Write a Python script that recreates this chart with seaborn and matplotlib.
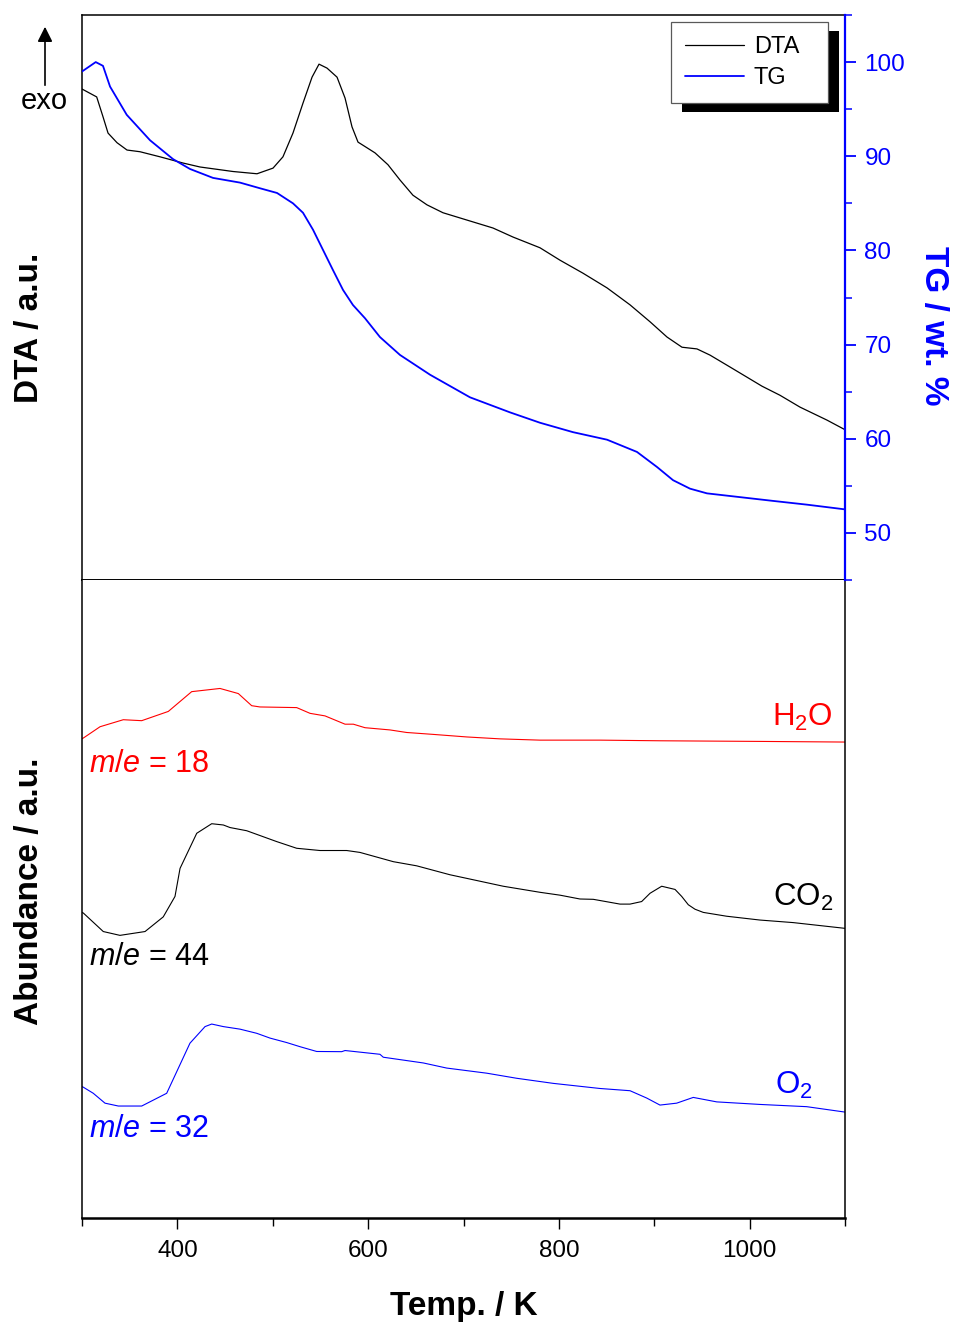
import matplotlib
matplotlib.use("Agg")
import matplotlib.pyplot as plt
from matplotlib.patches import Rectangle
from matplotlib.ticker import MultipleLocator
import seaborn as sns

# ---- thermal analysis (top panel) ----
dta_temp = [300.0, 315.4, 322.0, 327.3, 336.7, 347.2, 360.8, 381.8, 405.9, 423.7,
            458.3, 483.5, 500.3, 510.7, 521.2, 531.7, 541.2, 548.5, 556.9, 567.4,
            575.8, 583.1, 589.4, 598.8, 607.2, 620.8, 633.4, 647.0, 661.7, 678.5,
            703.7, 730.9, 751.9, 780.2, 801.2, 825.3, 850.5, 874.6, 895.6, 913.4,
            929.1, 944.8, 958.5, 979.4, 997.2, 1013.0, 1031.8, 1052.8, 1081.1, 1100.0]
dta_signal = [86.9, 85.5, 82.0, 79.1, 77.4, 76.1, 75.8, 74.9, 73.8, 73.1,
              72.3, 71.9, 72.9, 74.9, 79.1, 84.4, 89.0, 91.3, 90.6, 89.0,
              85.3, 80.2, 77.5, 76.5, 75.6, 73.5, 70.8, 68.1, 66.4, 65.0,
              63.7, 62.3, 60.7, 58.8, 56.6, 54.3, 51.7, 48.7, 45.7, 43.0,
              41.2, 40.9, 39.8, 37.7, 35.9, 34.3, 32.7, 30.6, 28.3, 26.6]

tg_temp = [300.0, 314.4, 322.0, 329.4, 346.9, 371.3, 395.4, 413.2, 437.4, 465.7,
           486.6, 504.5, 521.2, 531.7, 542.2, 552.7, 563.2, 573.7, 584.1, 596.7,
           612.4, 633.4, 664.9, 706.8, 748.8, 780.2, 814.8, 850.5, 881.9, 902.9,
           919.7, 937.5, 955.3, 989.9, 1024.5, 1060.2, 1100.0]
tg_mass = [99.0, 100.0, 99.6, 97.4, 94.4, 91.7, 89.7, 88.65, 87.7, 87.2,
           86.6, 86.1, 85.0, 84.0, 82.2, 80.05, 77.9, 75.8, 74.2, 72.8,
           70.8, 68.9, 66.8, 64.4, 62.8, 61.7, 60.7, 59.9, 58.6, 57.0,
           55.6, 54.7, 54.2, 53.8, 53.4, 53.0, 52.5]

# ---- mass spectrometry (bottom panel) ----
h2o_temp = [300.0, 303.1, 318.9, 343.3, 362.6, 390.5, 415.0, 444.7, 463.9, 477.9,
            486.6, 525.1, 539.1, 554.8, 575.8, 584.5, 596.7, 622.9, 640.4, 668.3,
            703.4, 738.3, 780.2, 843.1, 906.0, 1010.9, 1100.0]
h2o_abund = [75.1, 75.4, 77.0, 78.1, 77.95, 79.4, 82.5, 83.0, 82.2, 80.3,
             80.1, 80.0, 79.1, 78.7, 77.4, 77.4, 76.85, 76.5, 76.1, 75.8,
             75.4, 75.1, 74.9, 74.9, 74.8, 74.7, 74.6]

co2_temp = [300.0, 301.4, 322.3, 339.8, 366.1, 385.2, 397.5, 402.8, 420.3, 436.0,
            448.2, 455.2, 472.7, 504.1, 525.1, 549.5, 577.5, 591.5, 626.4, 650.9,
            685.8, 713.8, 741.7, 780.2, 801.2, 822.1, 836.1, 864.1, 874.6, 886.8,
            895.6, 907.8, 921.8, 928.8, 935.7, 942.7, 951.4, 975.9, 1010.9, 1045.8,
            1100.0]
co2_abund = [47.9, 47.8, 44.9, 44.3, 44.9, 47.2, 50.4, 54.8, 60.3, 61.8,
             61.6, 61.2, 60.7, 59.0, 57.95, 57.6, 57.6, 57.3, 55.85, 55.2,
             53.8, 52.9, 52.0, 51.05, 50.6, 50.0, 49.95, 49.2, 49.2, 49.6,
             50.9, 52.0, 51.5, 50.4, 49.1, 48.4, 47.9, 47.3, 46.7, 46.3,
             45.4]

o2_temp = [300.0, 301.4, 311.8, 324.1, 338.1, 362.6, 388.8, 413.2, 429.0, 436.0,
           448.2, 465.7, 483.2, 497.1, 514.6, 528.6, 546.1, 572.3, 575.8, 612.4,
           615.9, 657.9, 682.4, 724.3, 755.8, 794.2, 843.1, 874.6, 892.1, 906.0,
           923.5, 940.9, 965.5, 1010.9, 1059.8, 1100.0]
o2_abund = [20.6, 20.5, 19.55, 18.0, 17.55, 17.55, 19.55, 27.4, 30.0, 30.4,
            30.0, 29.6, 28.95, 28.2, 27.5, 26.85, 26.1, 26.07, 26.25, 25.66,
            25.2, 24.3, 23.5, 22.7, 21.9, 21.1, 20.3, 19.95, 18.8, 17.7,
            18.0, 18.9, 18.2, 17.8, 17.45, 16.6]

temp_ticks = [400, 600, 800, 1000]
tg_ticks = [50, 60, 70, 80, 90, 100]

sns.set_style("ticks")
plt.rcParams["font.family"] = ["Liberation Sans", "DejaVu Sans"]
plt.rcParams["mathtext.fontset"] = "custom"
plt.rcParams["mathtext.rm"] = "Liberation Sans"
plt.rcParams["mathtext.it"] = "Liberation Sans:italic"
plt.rcParams["mathtext.bf"] = "Liberation Sans:bold"
for key in ("text.color", "axes.labelcolor", "xtick.color", "ytick.color"):
    plt.rcParams[key] = "black"

W, H = 957, 1325
fig = plt.figure(figsize=(W / 100, H / 100), dpi=100)


def fx(px):
    return px / W


def fy(py):
    return 1 - py / H


L, R = 82, 845
ax_top = fig.add_axes([fx(L), fy(580), fx(R) - fx(L), fy(15) - fy(580)])
ax_ms = fig.add_axes([fx(L), fy(1218), fx(R) - fx(L), fy(580) - fy(1218)])
ax_tg = ax_top.twinx()

BLUE = "#0000ff"
RED = "#ff0000"

# DTA and TG curves
sns.lineplot(x=dta_temp, y=dta_signal, ax=ax_top, color="black", lw=0.9,
             estimator=None, sort=False, legend=False)
sns.lineplot(x=tg_temp, y=tg_mass, ax=ax_tg, color=BLUE, lw=1.3,
             estimator=None, sort=False, legend=False)
dta_line = ax_top.get_lines()[-1]
tg_line = ax_tg.get_lines()[-1]

for ax in (ax_top, ax_tg, ax_ms):
    ax.set_xlim(300, 1100)

ax_top.set_ylim(0, 100)
ax_tg.set_ylim(45, 105)
ax_ms.set_ylim(0, 100)

# top panel frame
ax_top.set_xticks([])
ax_top.set_yticks([])
for s in ("left", "top"):
    ax_top.spines[s].set_linewidth(1.1)
    ax_top.spines[s].set_color("black")
ax_top.spines["bottom"].set_linewidth(1.4)
ax_top.spines["bottom"].set_color("black")
ax_top.spines["right"].set_visible(False)
ax_top.set_ylabel("DTA / a.u.", fontsize=24, fontweight="bold")
ax_top.yaxis.set_label_coords(-0.049, 0.446)

ax_tg.spines["right"].set_color(BLUE)
ax_tg.spines["right"].set_linewidth(1.6)
for s in ("left", "top", "bottom"):
    ax_tg.spines[s].set_visible(False)
ax_tg.set_xticks([])
ax_tg.set_yticks(tg_ticks)
ax_tg.yaxis.set_minor_locator(MultipleLocator(5))
ax_tg.tick_params(axis="y", which="major", direction="out", length=8, width=1.3,
                  colors=BLUE, labelsize=17.5, pad=6)
ax_tg.tick_params(axis="y", which="minor", direction="out", length=5, width=1.1,
                  colors=BLUE)
ax_tg.set_ylabel("TG / wt. %", fontsize=24, fontweight="bold", color=BLUE,
                 rotation=-90)
ax_tg.yaxis.set_label_coords(1.136, 0.45)

# mass spectrometry curves
sns.lineplot(x=h2o_temp, y=h2o_abund, ax=ax_ms, color=RED, lw=0.8,
             estimator=None, sort=False, legend=False)
sns.lineplot(x=co2_temp, y=co2_abund, ax=ax_ms, color="black", lw=0.8,
             estimator=None, sort=False, legend=False)
sns.lineplot(x=o2_temp, y=o2_abund, ax=ax_ms, color=BLUE, lw=0.8,
             estimator=None, sort=False, legend=False)

ax_ms.set_yticks([])
ax_ms.set_xticks(temp_ticks)
ax_ms.xaxis.set_minor_locator(MultipleLocator(100))
ax_ms.tick_params(axis="x", which="major", direction="out", length=8, width=1.0,
                  labelsize=17.5, pad=7.5)
ax_ms.tick_params(axis="x", which="minor", direction="out", length=6, width=1.0)
ax_ms.spines["top"].set_visible(False)
for s in ("left", "right"):
    ax_ms.spines[s].set_linewidth(1.1)
    ax_ms.spines[s].set_color("black")
ax_ms.spines["bottom"].set_linewidth(1.8)
ax_ms.spines["bottom"].set_color("black")
ax_ms.set_xlabel("Temp. / K", fontsize=24, fontweight="bold", labelpad=21)
ax_ms.set_ylabel("Abundance / a.u.", fontsize=24, fontweight="bold")
ax_ms.yaxis.set_label_coords(-0.049, 0.5125)

# species labels
ax_ms.text(fx(833), fy(717), r"H$_2$O", transform=fig.transFigure, color=RED,
           fontsize=22.5, ha="right", va="center")
ax_ms.text(fx(833), fy(897), r"CO$_2$", transform=fig.transFigure, color="black",
           fontsize=22.5, ha="right", va="center")
ax_ms.text(fx(813), fy(1085), r"O$_2$", transform=fig.transFigure, color=BLUE,
           fontsize=22.5, ha="right", va="center")
ax_ms.text(fx(89), fy(764), r"$m/e$ = 18", transform=fig.transFigure, color=RED,
           fontsize=22, ha="left", va="center")
ax_ms.text(fx(89), fy(957), r"$m/e$ = 44", transform=fig.transFigure, color="black",
           fontsize=22, ha="left", va="center")
ax_ms.text(fx(89), fy(1129), r"$m/e$ = 32", transform=fig.transFigure, color=BLUE,
           fontsize=22, ha="left", va="center")

# exothermic direction marker
fig.text(fx(44), fy(101), "exo", fontsize=21, ha="center", va="center")
fig.add_artist(matplotlib.patches.FancyArrowPatch(
    (fx(45), fy(88)), (fx(45), fy(24)), transform=fig.transFigure,
    arrowstyle="-|>,head_length=6,head_width=3", color="black", lw=1.2,
    mutation_scale=1.5))

# legend with a solid drop shadow
leg = ax_tg.legend([dta_line, tg_line], ["DTA", "TG"], loc="upper left",
                   bbox_to_anchor=(fx(671), fy(22), fx(828) - fx(671), 0.0),
                   bbox_transform=fig.transFigure, mode="expand",
                   borderaxespad=0, fontsize=17, frameon=True, fancybox=False,
                   framealpha=1, edgecolor="0.35", handlelength=2.5,
                   handletextpad=0.4, labelspacing=0.38, borderpad=0.6)
leg.get_frame().set_linewidth(0.9)
leg.set_zorder(6)
for t in leg.get_texts():
    t.set_color("black")
fig.canvas.draw()
bb = leg.get_window_extent()
inv = fig.transFigure.inverted()
(x0, y0), (x1, y1) = inv.transform([(bb.x0 + 11, bb.y0 - 9), (bb.x1 + 11, bb.y1 - 9)])
shadow = Rectangle((x0, y0), x1 - x0, y1 - y0, transform=fig.transFigure,
                   facecolor="black", edgecolor="none", zorder=5.5, clip_on=False)
ax_tg.add_patch(shadow)

fig.savefig("out.png", dpi=100)
